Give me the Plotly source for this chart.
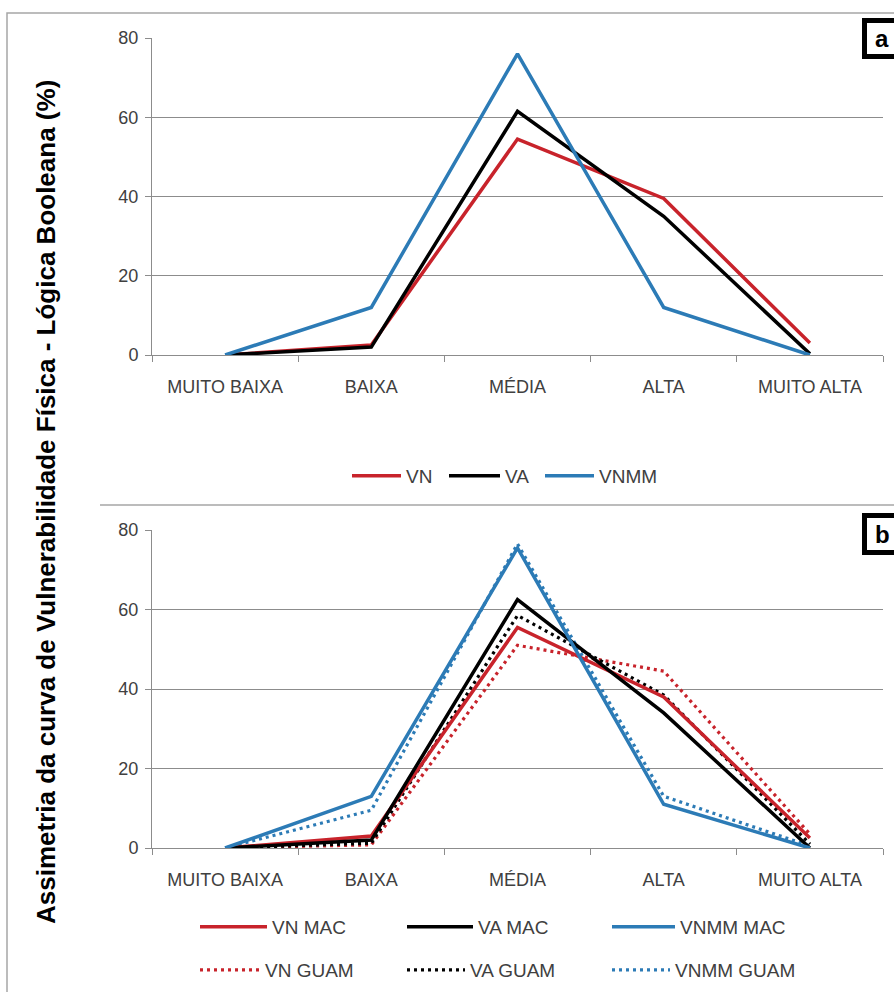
import plotly.graph_objects as go

# Vulnerability classes on the horizontal axis
categories = ["MUITO BAIXA", "BAIXA", "MÉDIA", "ALTA", "MUITO ALTA"]
y_ticks = [0, 20, 40, 60, 80]

# Panel a
vn = [0, 2.5, 54.5, 39.5, 3]
va = [0, 2, 61.5, 35, 0.3]
vnmm = [0, 12, 76, 12, 0]

# Panel b
vn_mac = [0, 3, 55.5, 38, 2.5]
va_mac = [0, 2, 62.5, 34, 0]
vnmm_mac = [0, 13, 75.5, 11, 0]
vn_guam = [0, 0.8, 51, 44.5, 3.5]
va_guam = [0, 1.2, 58.5, 38.5, 1]
vnmm_guam = [0, 9.5, 76.5, 13, 0.5]

RED = "#C8232B"
BLACK = "#000000"
BLUE = "#2C7BB6"
GRID = "#8C8C8C"
TXT = "#404040"
FONT = "Liberation Sans, Arial"

W, H = 894, 992


def py(p):
    return 1 - p / H


def px(p):
    return p / W


fig = go.Figure()

LW = 3.5
DW = 3.2
DOT = "3px,4px"

# (name, values, colour, dashed, axis suffix, legend id, legend line start x, legend y, symbol width)
series = [
    ("VN", vn, RED, False, "", "legend", 350, 476, 49),
    ("VA", va, BLACK, False, "", "legend2", 447, 476, 51),
    ("VNMM", vnmm, BLUE, False, "", "legend3", 543, 476, 49),
    ("VN GUAM", vn_guam, RED, True, "2", "legend4", 198, 970, 60),
    ("VA GUAM", va_guam, BLACK, True, "2", "legend5", 405, 970, 58),
    ("VNMM GUAM", vnmm_guam, BLUE, True, "2", "legend6", 610, 970, 58),
    ("VN MAC", vn_mac, RED, False, "2", "legend7", 198, 927, 67),
    ("VA MAC", va_mac, BLACK, False, "2", "legend8", 405, 927, 66),
    ("VNMM MAC", vnmm_mac, BLUE, False, "2", "legend9", 610, 927, 63),
]

legends = {}
for name, vals, col, dashed, ax, leg, lx, ly, iw in series:
    line = dict(color=col, width=DW if dashed else LW)
    if dashed:
        line["dash"] = DOT
    fig.add_trace(go.Scatter(x=categories, y=vals, name=name, mode="lines", line=line,
                             xaxis="x" + ax, yaxis="y" + ax, legend=leg))
    legends[leg] = dict(orientation="h", font=dict(family=FONT, size=19, color=TXT),
                        bgcolor="rgba(0,0,0,0)", itemwidth=iw, xanchor="left",
                        yanchor="middle", x=px(lx - 3), y=py(ly), borderwidth=0,
                        itemclick=False, itemdoubleclick=False)

xdom = [px(152), px(883)]
axis_x = dict(type="category", domain=xdom, showgrid=False, showline=True,
              linecolor=GRID, linewidth=1, ticks="outside", tickson="boundaries",
              ticklen=6, tickcolor=GRID, tickfont=dict(family=FONT, size=18, color=TXT),
              ticklabelstandoff=15, range=[-0.5, 4.5], fixedrange=True)
axis_y = dict(range=[0, 80], tickvals=y_ticks, showgrid=True, gridcolor=GRID, gridwidth=1,
              showline=True, linecolor=GRID, linewidth=1, ticks="outside", ticklen=6,
              tickcolor=GRID, tickfont=dict(family=FONT, size=18, color=TXT),
              ticklabelstandoff=3, zeroline=False, fixedrange=True)

fig.update_layout(
    width=W, height=H, margin=dict(l=0, r=0, t=0, b=0, autoexpand=False),
    paper_bgcolor="white", plot_bgcolor="white",
    xaxis=dict(axis_x, anchor="y"),
    yaxis=dict(axis_y, domain=[py(355), py(38)], anchor="x"),
    xaxis2=dict(axis_x, anchor="y2"),
    yaxis2=dict(axis_y, domain=[py(848), py(530)], anchor="x2"),
    showlegend=True,
    **legends,
)

# outer frame and panel separator
fig.add_shape(type="rect", xref="paper", yref="paper", x0=px(7), x1=1.02, y0=-0.02, y1=py(13),
              line=dict(color="#A6A6A6", width=1.5), layer="below")
fig.add_shape(type="line", xref="paper", yref="paper", x0=px(100), x1=1.0, y0=py(505), y1=py(505),
              line=dict(color="#A6A6A6", width=1.5), layer="below")

# panel labels
for lab, top, bottom in [("a", 20.5, 56.5), ("b", 515.5, 552.5)]:
    fig.add_shape(type="rect", xref="paper", yref="paper", x0=px(864.5), x1=px(904),
                  y0=py(bottom), y1=py(top), line=dict(color="black", width=5),
                  fillcolor="white")
    fig.add_annotation(text="<b>%s</b>" % lab, xref="paper", yref="paper", x=px(882),
                       y=py((top + bottom) / 2), xanchor="center", yanchor="middle",
                       showarrow=False, font=dict(family=FONT, size=24, color="black"))

fig.add_annotation(text="<b>Assimetria da curva de Vulnerabilidade Física - Lógica Booleana (%)</b>",
                   xref="paper", yref="paper", x=px(46), y=py(502), textangle=-90,
                   xanchor="center", yanchor="middle",
                   showarrow=False, font=dict(family=FONT, size=26, color="black"))

fig.write_html("out.html")
